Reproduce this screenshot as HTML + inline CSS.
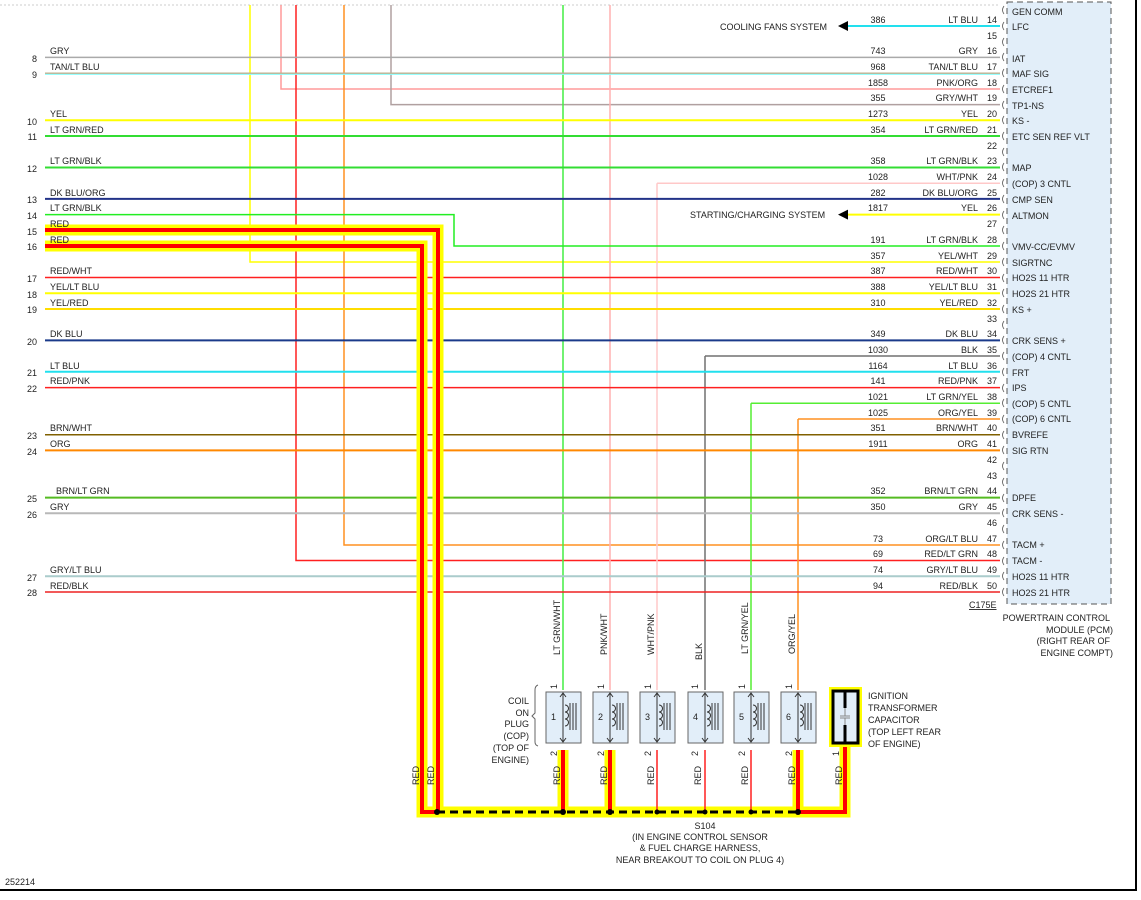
<!DOCTYPE html>
<html><head><meta charset="utf-8"><style>
html,body{margin:0;padding:0;background:#fff;}
svg{display:block;font-family:"Liberation Sans",Arial,sans-serif;}
.t{font-size:9px;fill:#222;}
.r{text-anchor:end;}
.m{text-anchor:middle;}
</style></head><body>
<svg width="1141" height="900" viewBox="0 0 1141 900" xmlns="http://www.w3.org/2000/svg">
<rect width="1141" height="900" fill="#fff"/>
<line x1="0" y1="5" x2="1000" y2="5" stroke="#ccc" stroke-dasharray="2,2"/>
<!-- PCM box -->
<rect x="1007" y="2" width="104" height="602" fill="#e2eef9" stroke="#555" stroke-dasharray="6,4"/>
<line x1="1136" y1="0" x2="1136" y2="890" stroke="#000" stroke-width="2"/>
<line x1="0" y1="890" x2="1137" y2="890" stroke="#000" stroke-width="2"/>

<!-- vertical wires -->
<g fill="none" stroke-width="1.5">
<path d="M250,5 V262 H1000" stroke="#ffff00"/>
<path d="M281,5 V89 H1000" stroke="#ff9a9a"/>
<path d="M296,5 V560.5 H1000" stroke="#ff2020"/>
<path d="M344,5 V545 H1000" stroke="#ff9020"/>
<path d="M391,5 V104.6 H1000" stroke="#b0a0a0"/>
<path d="M563,5 V690" stroke="#44ee44"/>
<path d="M610,5 V690" stroke="#ffb0b0"/>
<path d="M657,183.2 V690 M657,183.2 H1000" stroke="#ffc8c8"/>
<path d="M705,356 V690 M705,356 H1000" stroke="#707070"/>
<path d="M751,403.3 V690 M751,403.3 H1000" stroke="#55ee33"/>
<path d="M798,419 V690 M798,419 H1000" stroke="#ff9020"/>
<path d="M45,214.6 H454 V246 H1000" stroke="#22ee22"/>
<!-- full-width wires -->
<path d="M45,57.4 H1000" stroke="#aaaaaa"/>
<path d="M45,73.2 H1000" stroke="#c0b090"/>
<path d="M45,74.4 H1000" stroke="#88ffff" stroke-width="1"/>
<path d="M45,120.3 H1000" stroke="#ffff00" stroke-width="2"/>
<path d="M45,136 H1000" stroke="#33dd33" stroke-width="2"/>
<path d="M45,167.5 H1000" stroke="#33dd33" stroke-width="2"/>
<path d="M45,198.9 H1000" stroke="#223388" stroke-width="2"/>
<path d="M45,277.5 H1000" stroke="#ff2020"/>
<path d="M45,293.2 H1000" stroke="#ffff00" stroke-width="2"/>
<path d="M45,309 H1000" stroke="#ffdd00" stroke-width="2"/>
<path d="M45,340.4 H1000" stroke="#1a3a8a" stroke-width="2"/>
<path d="M45,371.8 H1000" stroke="#22e0ee" stroke-width="2"/>
<path d="M45,387.6 H1000" stroke="#ff2020"/>
<path d="M45,434.7 H1000" stroke="#806000"/>
<path d="M45,450.4 H1000" stroke="#ff8800" stroke-width="2"/>
<path d="M45,497.6 H1000" stroke="#55bb22" stroke-width="2"/>
<path d="M45,513.3 H1000" stroke="#b8b8b8" stroke-width="2"/>
<path d="M45,576.2 H1000" stroke="#aacccc" stroke-width="2"/>
<path d="M45,592 H1000" stroke="#ee2222" stroke-width="1.5"/>
<path d="M848,26 H1000" stroke="#22e0ee" stroke-width="2"/>
<path d="M848,214.6 H1000" stroke="#ffff00" stroke-width="2"/>
</g>
<polygon points="838,26 848,21 848,31" fill="#000"/>
<polygon points="838,214.6 848,209.6 848,219.6" fill="#000"/>
<text class="t" x="720" y="30">COOLING FANS SYSTEM</text>
<text class="t" x="690" y="218">STARTING/CHARGING SYSTEM</text>

<!-- thick red harness -->
<g fill="none" stroke-linejoin="miter">
<path d="M45,230 H438 V812 M45,246 H422 V812 H438" stroke="#ffff00" stroke-width="11"/>
<path d="M437,812 H798 M563,750 V812 M610,750 V812 M798,750 V812 M798,812 H845 V745" stroke="#ffff00" stroke-width="11"/>
<path d="M45,230 H438 V812 M45,246 H422 V812 H438" stroke="#ff0000" stroke-width="4"/>
<path d="M563,750 V812 M610,750 V812 M798,750 V812 M798,812 H845 V745" stroke="#ff0000" stroke-width="4"/>
<path d="M657,750 V812 M705,750 V812 M751,750 V812" stroke="#ff2020" stroke-width="1.5"/>
<path d="M437,812 H798" stroke="#000" stroke-width="3" stroke-dasharray="8,5"/>
</g>
<g fill="#000">
<circle cx="437" cy="812" r="3"/><circle cx="563" cy="812" r="3"/><circle cx="610" cy="812" r="3"/>
<circle cx="657" cy="812" r="2.5"/><circle cx="705" cy="812" r="2.5"/><circle cx="751" cy="812" r="2.5"/><circle cx="798" cy="812" r="3"/>
</g>
<text class="t m" x="705" y="829">S104</text>
<text class="t m" x="700" y="840">(IN ENGINE CONTROL SENSOR</text>
<text class="t m" x="700" y="851">&amp; FUEL CHARGE HARNESS,</text>
<text class="t m" x="700" y="863">NEAR BREAKOUT TO COIL ON PLUG 4)</text>
<text class="t" x="5" y="885">252214</text>

<!-- coils -->
<g>
<g transform="translate(563,0)"><rect x="-17" y="692" width="35" height="51" fill="#e2eef9" stroke="#666"/><text class="t" x="-12" y="720">1</text><path d="M0,694 V741 M-3,697 L0,693 L3,697 M-3,738 L0,742 L3,738 M2,705 a3,3 0 0 1 0,7 a3,3 0 0 1 0,7 a3,3 0 0 1 0,7 M7,703 V730 M10,703 V730 M13,703 V730" fill="none" stroke="#333"/></g>
<g transform="translate(610,0)"><rect x="-17" y="692" width="35" height="51" fill="#e2eef9" stroke="#666"/><text class="t" x="-12" y="720">2</text><path d="M0,694 V741 M-3,697 L0,693 L3,697 M-3,738 L0,742 L3,738 M2,705 a3,3 0 0 1 0,7 a3,3 0 0 1 0,7 a3,3 0 0 1 0,7 M7,703 V730 M10,703 V730 M13,703 V730" fill="none" stroke="#333"/></g>
<g transform="translate(657,0)"><rect x="-17" y="692" width="35" height="51" fill="#e2eef9" stroke="#666"/><text class="t" x="-12" y="720">3</text><path d="M0,694 V741 M-3,697 L0,693 L3,697 M-3,738 L0,742 L3,738 M2,705 a3,3 0 0 1 0,7 a3,3 0 0 1 0,7 a3,3 0 0 1 0,7 M7,703 V730 M10,703 V730 M13,703 V730" fill="none" stroke="#333"/></g>
<g transform="translate(705,0)"><rect x="-17" y="692" width="35" height="51" fill="#e2eef9" stroke="#666"/><text class="t" x="-12" y="720">4</text><path d="M0,694 V741 M-3,697 L0,693 L3,697 M-3,738 L0,742 L3,738 M2,705 a3,3 0 0 1 0,7 a3,3 0 0 1 0,7 a3,3 0 0 1 0,7 M7,703 V730 M10,703 V730 M13,703 V730" fill="none" stroke="#333"/></g>
<g transform="translate(751,0)"><rect x="-17" y="692" width="35" height="51" fill="#e2eef9" stroke="#666"/><text class="t" x="-12" y="720">5</text><path d="M0,694 V741 M-3,697 L0,693 L3,697 M-3,738 L0,742 L3,738 M2,705 a3,3 0 0 1 0,7 a3,3 0 0 1 0,7 a3,3 0 0 1 0,7 M7,703 V730 M10,703 V730 M13,703 V730" fill="none" stroke="#333"/></g>
<g transform="translate(798,0)"><rect x="-17" y="692" width="35" height="51" fill="#e2eef9" stroke="#666"/><text class="t" x="-12" y="720">6</text><path d="M0,694 V741 M-3,697 L0,693 L3,697 M-3,738 L0,742 L3,738 M2,705 a3,3 0 0 1 0,7 a3,3 0 0 1 0,7 a3,3 0 0 1 0,7 M7,703 V730 M10,703 V730 M13,703 V730" fill="none" stroke="#333"/></g>
</g>
<!-- capacitor -->
<rect x="829" y="687" width="33" height="60" fill="#ffff00"/>
<rect x="833" y="691" width="25" height="52" fill="#e2eef9" stroke="#000" stroke-width="3"/>
<path d="M845,691 V708 M845,725 V743" stroke="#000" stroke-width="3"/>
<path d="M845,708 V716 M845,718 V725 M840,716 H850 M840,718 H850" stroke="#888" stroke-width="1"/>
<text class="t" x="868" y="699">IGNITION</text>
<text class="t" x="868" y="711">TRANSFORMER</text>
<text class="t" x="868" y="723">CAPACITOR</text>
<text class="t" x="868" y="735">(TOP LEFT REAR</text>
<text class="t" x="868" y="747">OF ENGINE)</text>
<text class="t r" x="529" y="704">COIL</text>
<text class="t r" x="529" y="716">ON</text>
<text class="t r" x="529" y="727">PLUG</text>
<text class="t r" x="529" y="739">(COP)</text>
<text class="t r" x="529" y="751">(TOP OF</text>
<text class="t r" x="529" y="763">ENGINE)</text>
<path d="M538,685 Q535,686 535,690 V713 L532,716 L535,719 V742 Q535,745 538,746" fill="none" stroke="#666"/>

<!-- rotated labels -->
<g class="t">
<text transform="translate(560,655) rotate(-90)">LT GRN/WHT</text>
<text transform="translate(607,655) rotate(-90)">PNK/WHT</text>
<text transform="translate(654,655) rotate(-90)">WHT/PNK</text>
<text transform="translate(702,660) rotate(-90)">BLK</text>
<text transform="translate(748,654) rotate(-90)">LT GRN/YEL</text>
<text transform="translate(795,654) rotate(-90)">ORG/YEL</text>
<text transform="translate(419,785) rotate(-90)">RED</text>
<text transform="translate(434,785) rotate(-90)">RED</text>
<text transform="translate(560,785) rotate(-90)">RED</text>
<text transform="translate(607,785) rotate(-90)">RED</text>
<text transform="translate(654,785) rotate(-90)">RED</text>
<text transform="translate(701,785) rotate(-90)">RED</text>
<text transform="translate(748,785) rotate(-90)">RED</text>
<text transform="translate(795,785) rotate(-90)">RED</text>
<text transform="translate(842,785) rotate(-90)">RED</text>
<text transform="translate(557,689) rotate(-90)">1</text><text transform="translate(604,689) rotate(-90)">1</text><text transform="translate(651,689) rotate(-90)">1</text><text transform="translate(698,689) rotate(-90)">1</text><text transform="translate(745,689) rotate(-90)">1</text><text transform="translate(792,689) rotate(-90)">1</text>
<text transform="translate(557,756) rotate(-90)">2</text><text transform="translate(604,756) rotate(-90)">2</text><text transform="translate(651,756) rotate(-90)">2</text><text transform="translate(698,756) rotate(-90)">2</text><text transform="translate(745,756) rotate(-90)">2</text><text transform="translate(792,756) rotate(-90)">2</text>
<text transform="translate(839,756) rotate(-90)">1</text>
</g>

<!-- left labels -->
<g class="t">
<text x="50" y="54">GRY</text><text class="r" x="37" y="62">8</text>
<text x="50" y="70">TAN/LT BLU</text><text class="r" x="37" y="78">9</text>
<text x="50" y="117">YEL</text><text class="r" x="37" y="125">10</text>
<text x="50" y="133">LT GRN/RED</text><text class="r" x="37" y="140">11</text>
<text x="50" y="164">LT GRN/BLK</text><text class="r" x="37" y="172">12</text>
<text x="50" y="196">DK BLU/ORG</text><text class="r" x="37" y="203">13</text>
<text x="50" y="211">LT GRN/BLK</text><text class="r" x="37" y="219">14</text>
<text x="50" y="227">RED</text><text class="r" x="37" y="235">15</text>
<text x="50" y="243">RED</text><text class="r" x="37" y="250">16</text>
<text x="50" y="274">RED/WHT</text><text class="r" x="37" y="282">17</text>
<text x="50" y="290">YEL/LT BLU</text><text class="r" x="37" y="298">18</text>
<text x="50" y="306">YEL/RED</text><text class="r" x="37" y="313">19</text>
<text x="50" y="337">DK BLU</text><text class="r" x="37" y="345">20</text>
<text x="50" y="369">LT BLU</text><text class="r" x="37" y="376">21</text>
<text x="50" y="384">RED/PNK</text><text class="r" x="37" y="392">22</text>
<text x="50" y="431">BRN/WHT</text><text class="r" x="37" y="439">23</text>
<text x="50" y="447">ORG</text><text class="r" x="37" y="455">24</text>
<text x="56" y="494">BRN/LT GRN</text><text class="r" x="37" y="502">25</text>
<text x="50" y="510">GRY</text><text class="r" x="37" y="518">26</text>
<text x="50" y="573">GRY/LT BLU</text><text class="r" x="37" y="581">27</text>
<text x="50" y="589">RED/BLK</text><text class="r" x="37" y="596">28</text>
</g>

<!-- right wire labels: circuit, color, pin -->
<g class="t">
<text class="m" x="878" y="23">386</text><text class="r" x="978" y="23">LT BLU</text>
<text class="m" x="878" y="54">743</text><text class="r" x="978" y="54">GRY</text>
<text class="m" x="878" y="70">968</text><text class="r" x="978" y="70">TAN/LT BLU</text>
<text class="m" x="878" y="86">1858</text><text class="r" x="978" y="86">PNK/ORG</text>
<text class="m" x="878" y="101">355</text><text class="r" x="978" y="101">GRY/WHT</text>
<text class="m" x="878" y="117">1273</text><text class="r" x="978" y="117">YEL</text>
<text class="m" x="878" y="133">354</text><text class="r" x="978" y="133">LT GRN/RED</text>
<text class="m" x="878" y="164">358</text><text class="r" x="978" y="164">LT GRN/BLK</text>
<text class="m" x="878" y="180">1028</text><text class="r" x="978" y="180">WHT/PNK</text>
<text class="m" x="878" y="196">282</text><text class="r" x="978" y="196">DK BLU/ORG</text>
<text class="m" x="878" y="211">1817</text><text class="r" x="978" y="211">YEL</text>
<text class="m" x="878" y="243">191</text><text class="r" x="978" y="243">LT GRN/BLK</text>
<text class="m" x="878" y="259">357</text><text class="r" x="978" y="259">YEL/WHT</text>
<text class="m" x="878" y="274">387</text><text class="r" x="978" y="274">RED/WHT</text>
<text class="m" x="878" y="290">388</text><text class="r" x="978" y="290">YEL/LT BLU</text>
<text class="m" x="878" y="306">310</text><text class="r" x="978" y="306">YEL/RED</text>
<text class="m" x="878" y="337">349</text><text class="r" x="978" y="337">DK BLU</text>
<text class="m" x="878" y="353">1030</text><text class="r" x="978" y="353">BLK</text>
<text class="m" x="878" y="369">1164</text><text class="r" x="978" y="369">LT BLU</text>
<text class="m" x="878" y="384">141</text><text class="r" x="978" y="384">RED/PNK</text>
<text class="m" x="878" y="400">1021</text><text class="r" x="978" y="400">LT GRN/YEL</text>
<text class="m" x="878" y="416">1025</text><text class="r" x="978" y="416">ORG/YEL</text>
<text class="m" x="878" y="431">351</text><text class="r" x="978" y="431">BRN/WHT</text>
<text class="m" x="878" y="447">1911</text><text class="r" x="978" y="447">ORG</text>
<text class="m" x="878" y="494">352</text><text class="r" x="978" y="494">BRN/LT GRN</text>
<text class="m" x="878" y="510">350</text><text class="r" x="978" y="510">GRY</text>
<text class="m" x="878" y="542">73</text><text class="r" x="978" y="542">ORG/LT BLU</text>
<text class="m" x="878" y="557">69</text><text class="r" x="978" y="557">RED/LT GRN</text>
<text class="m" x="878" y="573">74</text><text class="r" x="978" y="573">GRY/LT BLU</text>
<text class="m" x="878" y="589">94</text><text class="r" x="978" y="589">RED/BLK</text>
</g>
<g class="t r">
<text x="997" y="23">14</text><text x="997" y="39">15</text><text x="997" y="54">16</text><text x="997" y="70">17</text><text x="997" y="86">18</text><text x="997" y="101">19</text><text x="997" y="117">20</text><text x="997" y="133">21</text><text x="997" y="149">22</text><text x="997" y="164">23</text><text x="997" y="180">24</text><text x="997" y="196">25</text><text x="997" y="211">26</text><text x="997" y="227">27</text><text x="997" y="243">28</text><text x="997" y="259">29</text><text x="997" y="274">30</text><text x="997" y="290">31</text><text x="997" y="306">32</text><text x="997" y="322">33</text><text x="997" y="337">34</text><text x="997" y="353">35</text><text x="997" y="369">36</text><text x="997" y="384">37</text><text x="997" y="400">38</text><text x="997" y="416">39</text><text x="997" y="431">40</text><text x="997" y="447">41</text><text x="997" y="463">42</text><text x="997" y="479">43</text><text x="997" y="494">44</text><text x="997" y="510">45</text><text x="997" y="526">46</text><text x="997" y="542">47</text><text x="997" y="557">48</text><text x="997" y="573">49</text><text x="997" y="589">50</text>
</g>
<!-- connector brackets -->
<g fill="none" stroke="#555" stroke-width="0.8">
<path d="M1004,6 q-3,4 0,8 M1004,22 q-3,4 0,8 M1004,38 q-3,4 0,8 M1004,53 q-3,4 0,8 M1004,69 q-3,4 0,8 M1004,85 q-3,4 0,8 M1004,101 q-3,4 0,8 M1004,116 q-3,4 0,8 M1004,132 q-3,4 0,8 M1004,148 q-3,4 0,8 M1004,163 q-3,4 0,8 M1004,179 q-3,4 0,8 M1004,195 q-3,4 0,8 M1004,211 q-3,4 0,8 M1004,226 q-3,4 0,8 M1004,242 q-3,4 0,8 M1004,258 q-3,4 0,8 M1004,274 q-3,4 0,8 M1004,289 q-3,4 0,8 M1004,305 q-3,4 0,8 M1004,321 q-3,4 0,8 M1004,336 q-3,4 0,8 M1004,352 q-3,4 0,8 M1004,368 q-3,4 0,8 M1004,384 q-3,4 0,8 M1004,399 q-3,4 0,8 M1004,415 q-3,4 0,8 M1004,431 q-3,4 0,8 M1004,446 q-3,4 0,8 M1004,462 q-3,4 0,8 M1004,478 q-3,4 0,8 M1004,494 q-3,4 0,8 M1004,509 q-3,4 0,8 M1004,525 q-3,4 0,8 M1004,541 q-3,4 0,8 M1004,557 q-3,4 0,8 M1004,572 q-3,4 0,8 M1004,588 q-3,4 0,8"/>
</g>
<g class="t">
<text x="1012" y="15">GEN COMM</text>
<text x="1012" y="30">LFC</text>
<text x="1012" y="62">IAT</text>
<text x="1012" y="77">MAF SIG</text>
<text x="1012" y="93">ETCREF1</text>
<text x="1012" y="109">TP1-NS</text>
<text x="1012" y="124">KS -</text>
<text x="1012" y="140">ETC SEN REF VLT</text>
<text x="1012" y="171">MAP</text>
<text x="1012" y="187">(COP) 3 CNTL</text>
<text x="1012" y="203">CMP SEN</text>
<text x="1012" y="219">ALTMON</text>
<text x="1012" y="250">VMV-CC/EVMV</text>
<text x="1012" y="266">SIGRTNC</text>
<text x="1012" y="281">HO2S 11 HTR</text>
<text x="1012" y="297">HO2S 21 HTR</text>
<text x="1012" y="313">KS +</text>
<text x="1012" y="344">CRK SENS +</text>
<text x="1012" y="360">(COP) 4 CNTL</text>
<text x="1012" y="376">FRT</text>
<text x="1012" y="391">IPS</text>
<text x="1012" y="407">(COP) 5 CNTL</text>
<text x="1012" y="422">(COP) 6 CNTL</text>
<text x="1012" y="438">BVREFE</text>
<text x="1012" y="454">SIG RTN</text>
<text x="1012" y="501">DPFE</text>
<text x="1012" y="517">CRK SENS -</text>
<text x="1012" y="548">TACM +</text>
<text x="1012" y="564">TACM -</text>
<text x="1012" y="580">HO2S 11 HTR</text>
<text x="1012" y="596">HO2S 21 HTR</text>
<text x="969" y="608" text-decoration="underline">C175E</text>
<text class="r" x="1110" y="621">POWERTRAIN CONTROL</text>
<text class="r" x="1113" y="633">MODULE (PCM)</text>
<text class="r" x="1110" y="644">(RIGHT REAR OF</text>
<text class="r" x="1113" y="656">ENGINE COMPT)</text>
</g>
</svg>
</body></html>
